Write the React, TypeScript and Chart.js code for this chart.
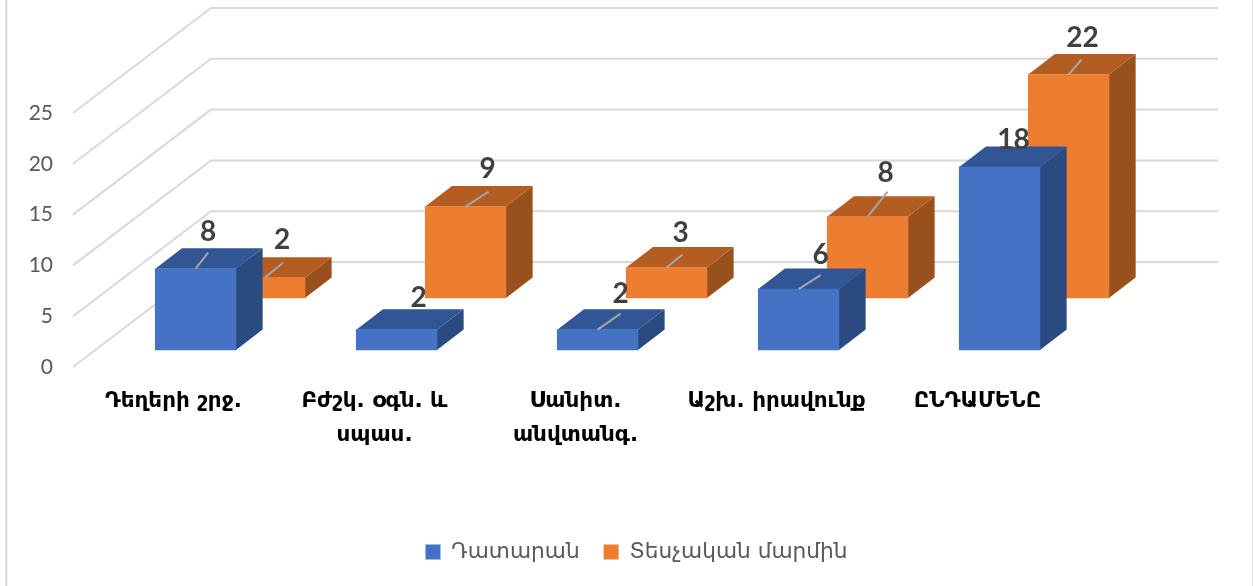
import React, { useEffect, useRef } from "react";
import { Chart, registerables } from "chart.js";

Chart.register(...registerables);

const categories = [
  "Դեղերի շրջ.",
  ["Բժշկ. օգն. և", "սպաս."],
  ["Սանիտ.", "անվտանգ."],
  "Աշխ. իրավունք",
  "ԸՆԴԱՄԵՆԸ",
];
const courtValues = [8, 2, 2, 6, 18];
const inspectionValues = [2, 9, 3, 8, 22];
const seriesNames = ["Դատարան", "Տեսչական մարմին"];
const yTicks = { min: 0, max: 25, step: 5 };

// Styling of the pseudo-3D projection
const WALL_SHIFT = { x: 138, y: -105 };
const GRID_OVERRUN = 2;
const BOX_DEPTH = { x: 26.7, y: -20.5 };
const ROW_SHIFT = [
  { x: 22.1, y: -17 },
  { x: 91.1, y: -69 },
];
const FACE_COLORS = [
  { front: "#4472C4", top: "#325596", side: "#2A4A80" },
  { front: "#ED7D31", top: "#B35D22", side: "#98501C" },
];
// Label placement relative to the middle of the bar's top-front edge: [labelDx, labelDy, leaderDx, leaderDy]
const LABEL_PLACEMENT = [
  [[12.5, -37, 12.5, -16], [22, -32, 0, 0], [23, -36, 23, -16], [22, -34, 22, -14], [14, -27, 0, 0]],
  [[17.5, -38, 18.5, -15], [22, -38, 23, -15], [14, -35, 16, -13], [18, -44, 20, -25], [14, -37, 13, -15]],
];

const FRAME_LEFT = 73;
const FRAME_RIGHT_GAP = 175;
const FRAME_TOP = 113;
const FRAME_BOTTOM = 367;
const W = 1253;
const H = 586;
const LEGEND_CX = 636.5;
const LEGEND_CY = 545;

const box3d = {
  id: "box3d",
  afterLayout(chart: any) {
    const lg = chart.legend;
    if (!lg) return;
    const h = lg.height;
    lg.left = LEGEND_CX - 400;
    lg.right = LEGEND_CX + 400;
    lg.top = LEGEND_CY - h / 2;
    lg.bottom = lg.top + h;
  },
  beforeDraw(chart: any) {
    const { ctx } = chart;
    ctx.save();
    ctx.fillStyle = "#DEDEDE";
    ctx.fillRect(5, 0, 2.5, H);
    ctx.fillRect(1252, 0, 1, H);
    ctx.restore();
  },
  beforeDatasetsDraw(chart: any) {
    const { ctx, chartArea: a } = chart;
    const yS = chart.scales.y;
    ctx.save();
    ctx.strokeStyle = "#D9D9D9";
    ctx.lineWidth = 2;
    yS.ticks.forEach((_: any, i: number) => {
      const p = yS.getPixelForTick(i);
      ctx.beginPath();
      ctx.moveTo(a.left, p);
      ctx.lineTo(a.left + WALL_SHIFT.x, p + WALL_SHIFT.y);
      ctx.lineTo(a.right + WALL_SHIFT.x + GRID_OVERRUN, p + WALL_SHIFT.y);
      ctx.stroke();
    });
    ctx.restore();
  },
  beforeDatasetDraw(chart: any, args: any) {
    const { ctx } = chart;
    const s = ROW_SHIFT[args.index];
    const c = FACE_COLORS[args.index];
    ctx.save();
    ctx.translate(s.x, s.y);
    args.meta.data.forEach((bar: any) => {
      const l = bar.x - bar.width / 2;
      const r = bar.x + bar.width / 2;
      const t = bar.y;
      const b = bar.base;
      ctx.fillStyle = c.side;
      ctx.beginPath();
      ctx.moveTo(r, t);
      ctx.lineTo(r + BOX_DEPTH.x, t + BOX_DEPTH.y);
      ctx.lineTo(r + BOX_DEPTH.x, b + BOX_DEPTH.y);
      ctx.lineTo(r, b);
      ctx.closePath();
      ctx.fill();
      ctx.fillStyle = c.top;
      ctx.beginPath();
      ctx.moveTo(l, t);
      ctx.lineTo(l + BOX_DEPTH.x, t + BOX_DEPTH.y);
      ctx.lineTo(r + BOX_DEPTH.x, t + BOX_DEPTH.y);
      ctx.lineTo(r, t);
      ctx.closePath();
      ctx.fill();
    });
  },
  afterDatasetDraw(chart: any) {
    chart.ctx.restore();
  },
  afterDatasetsDraw(chart: any) {
    const { ctx } = chart;
    ctx.save();
    chart.data.datasets.forEach((ds: any, di: number) => {
      const meta = chart.getDatasetMeta(di);
      const s = ROW_SHIFT[di];
      meta.data.forEach((bar: any, i: number) => {
        const [, , ex, ey] = LABEL_PLACEMENT[di][i];
        const x0 = bar.x + s.x;
        const y0 = bar.y + s.y;
        if (ex || ey) {
          ctx.strokeStyle = "#A6A6A6";
          ctx.lineWidth = 2;
          ctx.beginPath();
          ctx.moveTo(x0, y0);
          ctx.lineTo(x0 + ex, y0 + ey);
          ctx.stroke();
        }
      });
    });
    chart.data.datasets.forEach((ds: any, di: number) => {
      const meta = chart.getDatasetMeta(di);
      const s = ROW_SHIFT[di];
      meta.data.forEach((bar: any, i: number) => {
        const [lx, ly] = LABEL_PLACEMENT[di][i];
        ctx.fillStyle = "#404040";
        ctx.font = "bold 28px Lato";
        ctx.textAlign = "center";
        ctx.textBaseline = "middle";
        ctx.fillText(String(ds.data[i]), bar.x + s.x + lx, bar.y + s.y + ly);
      });
    });
    ctx.restore();
  },
};

export default function App() {
  const ref = useRef<HTMLCanvasElement>(null);
  useEffect(() => {
    const chart = new Chart(ref.current as any, {
      type: "bar",
      data: {
        labels: categories as any,
        datasets: [
          { label: seriesNames[0], data: courtValues, backgroundColor: FACE_COLORS[0].front, clip: false as any },
          { label: seriesNames[1], data: inspectionValues, backgroundColor: FACE_COLORS[1].front, clip: false as any },
        ],
      },
      options: {
        responsive: false,
        animation: false,
        events: [],
        layout: { padding: { top: FRAME_TOP, right: FRAME_RIGHT_GAP, left: 0, bottom: 0 } },
        datasets: { bar: { grouped: false, barThickness: 80.7 } } as any,
        scales: {
          x: {
            grid: { display: false, drawTicks: false },
            border: { display: false },
            ticks: {
              autoSkip: false,
              maxRotation: 0,
              minRotation: 0,
              padding: 17,
              color: "#000000",
              font: { family: "'DejaVu Sans'", size: 21.5, weight: "bold", lineHeight: "34px" as any },
            },
            afterFit(s: any) {
              const lh = s.chart.legend?.height ?? 44;
              s.height = H - FRAME_BOTTOM - lh;
            },
          },
          y: {
            min: yTicks.min,
            max: yTicks.max,
            grid: { display: false, drawTicks: false },
            border: { display: false },
            ticks: {
              stepSize: yTicks.step,
              padding: 20,
              color: "#595959",
              font: { family: "Lato", size: 21 },
            },
            afterFit(s: any) {
              s.width = FRAME_LEFT;
            },
          },
        },
        plugins: {
          tooltip: { enabled: false },
          legend: {
            position: "bottom",
            labels: {
              boxWidth: 15,
              boxHeight: 15,
              padding: 24,
              color: "#595959",
              font: { family: "'DejaVu Sans'", size: 21.7 },
            },
          },
        },
      },
      plugins: [box3d as any],
    });
    return () => chart.destroy();
  }, []);
  return (
    <div style={{ position: "absolute", left: 0, top: 0, width: W, height: H, background: "#fff" }}>
      <canvas ref={ref} width={W} height={H} style={{ display: "block", filter: "blur(0.4px)" }} />
    </div>
  );
}
